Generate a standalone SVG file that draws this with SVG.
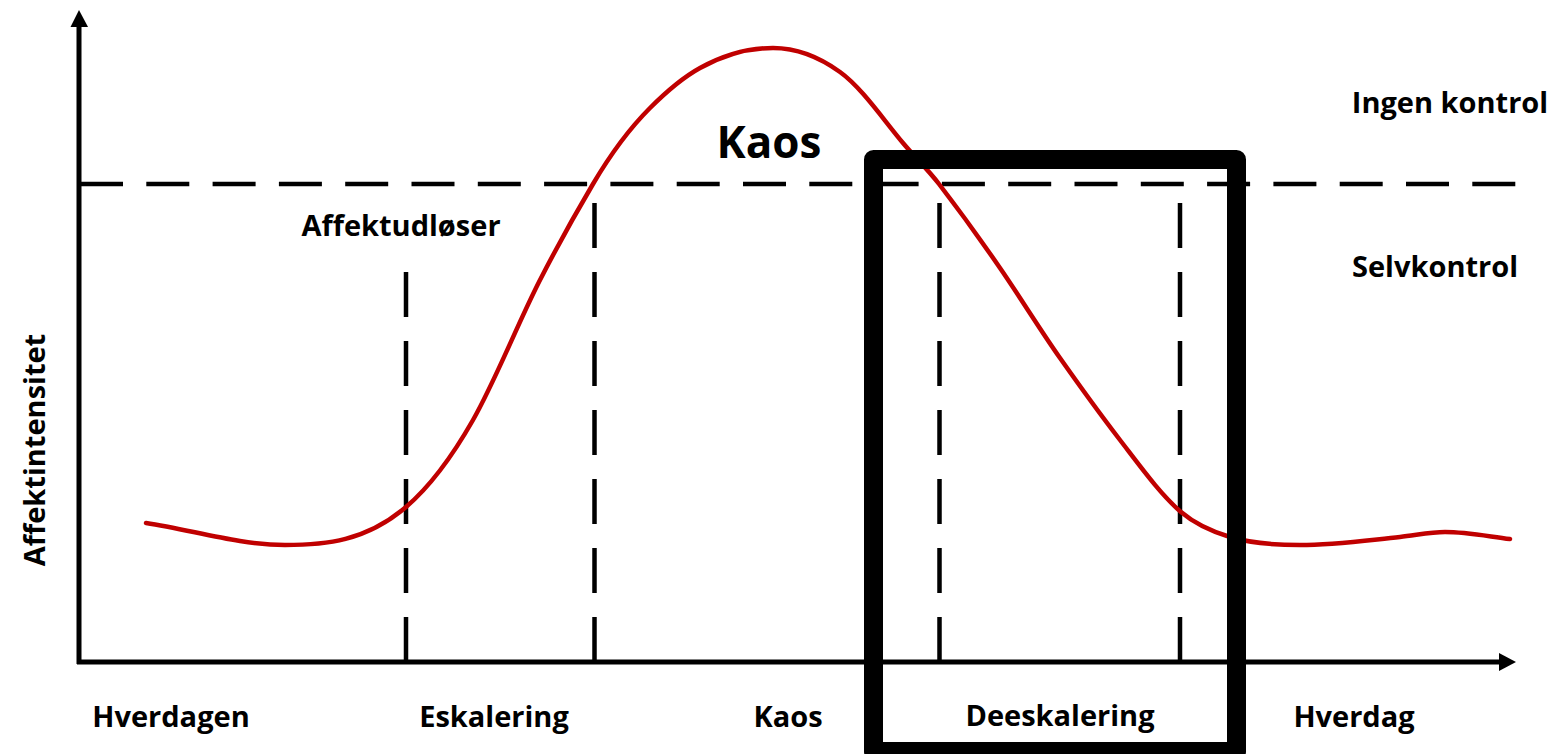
<svg xmlns="http://www.w3.org/2000/svg" width="1559" height="754" viewBox="0 0 1559 754">
<style>
.lbl{font-family:"Open Sans","Liberation Sans",sans-serif;font-weight:700;font-size:29px;fill:#000;text-anchor:middle}
.big{font-size:44px}
.axis{stroke:#000;stroke-width:5;fill:none}
.dash{stroke:#000;stroke-width:4.5;fill:none;stroke-dasharray:45 24}
.hdash{stroke:#000;stroke-width:4.5;fill:none;stroke-dasharray:43 23.3}
.curve{stroke:#C00000;stroke-width:4.5;fill:none;stroke-linecap:round;stroke-linejoin:round}
</style>
<rect width="1559" height="754" fill="#fff"/>
<g id="threshold">
<line class="hdash" x1="80" y1="184" x2="1520" y2="184"/>
</g>
<g id="phase-lines">
<line class="dash" x1="406" y1="662" x2="406" y2="268"/>
<line class="dash" x1="594.5" y1="662" x2="594.5" y2="184"/>
<line class="dash" x1="939.5" y1="662" x2="939.5" y2="184"/>
<line class="dash" x1="1180" y1="662" x2="1180" y2="184"/>
</g>
<g id="curve">
<path class="curve" d="M146,523 C192.3,529.9 238.7,545 285,545 C325.3,545 365.7,541.3 406,507 C428.3,488 450.7,459.1 473,420 C495.3,380.9 517.7,323.5 540,280 C557.7,245.5 575.3,214 593,184 C612,151.7 631,127 650,108 C666.7,91.3 683.3,77.2 700,68 C724.3,54.6 748.7,48 773,48 C795.3,48 817.7,55.9 840,72 C861,87.1 882,117.8 903,143 C915,157.4 927,168.4 939,184 C959.3,210.4 979.7,238.5 1000,268 C1020,297 1040,329.6 1060,358 C1080,386.4 1100,414 1120,440 C1140.3,466.4 1160.7,494.7 1181,512 C1197.3,525.9 1213.7,532.1 1230,537 C1253.3,544 1276.7,545 1300,545 C1333.3,545 1366.7,540.3 1400,537 C1415,535.5 1430,532 1445,532 C1466.7,532 1488.3,536.4 1510,539"/>
</g>
<g id="axes">
<line class="axis" x1="79" y1="664" x2="79" y2="24"/>
<polygon points="79,10 70.5,27 88,27" fill="#000"/>
<line class="axis" x1="77" y1="662" x2="1502" y2="662"/>
<polygon points="1516,662 1499,653 1499,671" fill="#000"/>
</g>
<g id="focus-box">
<rect x="873.5" y="159.5" width="363" height="592" fill="none" stroke="#000" stroke-width="19" stroke-linejoin="round"/>
</g>
<g id="labels">
<text class="lbl big" x="769" y="158">Kaos</text>
<text class="lbl" x="1450" y="113">Ingen kontrol</text>
<text class="lbl" x="1435" y="277">Selvkontrol</text>
<text class="lbl" x="401" y="236">Affektudløser</text>
<text class="lbl" x="171" y="727">Hverdagen</text>
<text class="lbl" x="494" y="727">Eskalering</text>
<text class="lbl" x="788" y="727">Kaos</text>
<text class="lbl" x="1060" y="726">Deeskalering</text>
<text class="lbl" x="1354" y="727">Hverdag</text>
<text class="lbl" transform="translate(45,450) rotate(-90)">Affektintensitet</text>
</g>
</svg>
